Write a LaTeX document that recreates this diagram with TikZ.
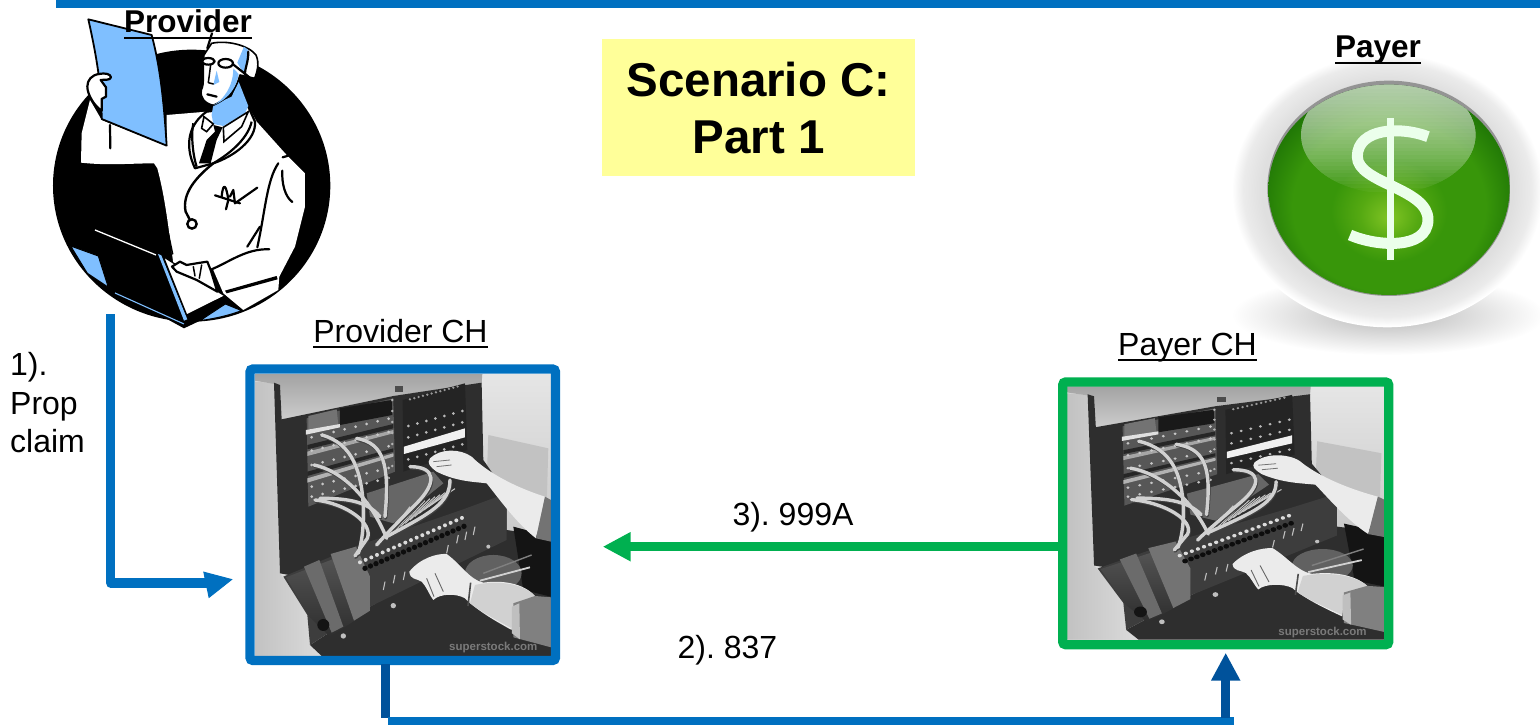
\documentclass[tikz,border=0pt]{standalone}
\usepackage{fontspec}
\setmainfont{Liberation Sans}
\usetikzlibrary{arrows.meta}
\definecolor{mainblue}{HTML}{0070C0}
\definecolor{darkblue}{HTML}{00529B}
\definecolor{maingreen}{HTML}{00B050}
\definecolor{paleblue}{HTML}{7FBFFF}
\definecolor{scenbg}{HTML}{FFFF99}
\definecolor{ballA}{HTML}{80C424}
\definecolor{ballB}{HTML}{55A912}
\definecolor{ballC}{HTML}{38960A}
\definecolor{ballD}{HTML}{1C7205}
\definecolor{ringA}{HTML}{DFDFDF}
\definecolor{ringB}{HTML}{EBEBEB}
\pgfdeclareradialshading{greenball}{\pgfpoint{0bp}{-7bp}}{%
  color(0bp)=(ballA); color(6bp)=(ballB); color(12bp)=(ballC); color(20bp)=(ballC); color(28bp)=(ballD); color(50bp)=(ballD)}
\pgfdeclareradialshading{softring}{\pgfpoint{0bp}{0bp}}{%
  color(0bp)=(ringA); color(20bp)=(ringA); color(23bp)=(ringB); color(24.8bp)=(white); color(50bp)=(white)}
\AtBeginDocument{\frenchspacing}
\newcommand\myul[1]{\leavevmode\setbox0\hbox{#1}\rlap{\rule[-.2em]{\wd0}{.08em}}\box0}
\newcounter{wmcount}
\tikzset{
  lbl/.style={anchor=base,inner sep=0pt,font=\fontsize{32}{38.5}\selectfont},
  lblbold/.style={anchor=base,inner sep=0pt,font=\fontsize{31.5}{38}\selectfont\bfseries},
  chframe/.style={draw=#1,line width=9.3pt,rounded corners=3pt,inner sep=0pt,fill=none},
  bflow/.style={draw=mainblue,line width=9.3pt,line join=round},
  dflow/.style={draw=darkblue,line width=9.3pt},
  gflow/.style={draw=maingreen,line width=9.3pt},
  ink/.style={black,line width=1.5pt,line cap=round,line join=round},
  inkb/.style={black,line width=2.2pt,line cap=round,line join=round},
  cord/.style={line width=3.4pt,draw=#1,line cap=round},
}
\newcommand\boardcords[1]{%
    \draw[cord=#1] (275,255) .. controls (370,280) and (395,370) .. (400,470) .. controls (402,530) and (395,580) .. (385,610);
    \draw[cord=#1] (380,265) .. controls (460,280) and (480,340) .. (465,500);
    \draw[cord=#1] (252,345) .. controls (330,360) and (420,440) .. (470,565);
    \draw[cord=#1] (255,450) .. controls (350,460) and (430,520) .. (412,565) -- (375,618);
    \draw[cord=#1] (270,445) .. controls (340,445) and (410,450) .. (450,500);
    \draw[cord=#1] (540,350) .. controls (620,350) and (620,400) .. (560,460) .. controls (520,500) and (470,550) .. (440,585);
    \draw[cord=#1] (660,390) .. controls (660,460) and (600,490) .. (470,560);
}
% ---------- switchboard photo, drawn in a 3x local grid
\newcommand\boardart{%
  \clip (75,72) rectangle (963,918);
  \fill[black!15] (75,72) rectangle (963,918);
  \shade[top color=black!10,bottom color=black!22] (755,72) rectangle (963,600);
  \fill[black!24] (775,255) -- (955,295) -- (950,470) -- (770,395) -- cycle;
  \shade[left color=black!24,right color=black!14] (75,95) -- (135,100) -- (150,670) -- (235,790) -- (240,880) -- (275,918) -- (75,918) -- cycle;
  \shade[top color=black!36,bottom color=black!20] (75,72) -- (757,72) -- (755,100) -- (490,138) -- (155,208) -- (150,105) -- (75,92) -- cycle;
  % dark panel
  \fill[black!82] (132,98) -- (150,105) -- (155,208) -- (490,138) -- (755,98) -- (760,330) -- (830,430) -- (830,570) -- (420,720) -- (150,670) -- cycle;
  % desk
  \fill[black!82] (275,918) -- (240,885) -- (420,770) -- (830,540) -- (963,560) -- (963,918) -- cycle;
  \fill[black!92] (850,530) -- (963,560) -- (963,740) -- (880,720) -- cycle;
  \fill[black!62] (790,670) ellipse (85 and 55);
  % left jack field
  \fill[black!66] (230,205) -- (490,145) -- (495,365) -- (235,470) -- cycle;
  \fill[black!90] (330,175) -- (485,150) -- (487,195) -- (330,225) -- cycle;
  \fill[black!55] (235,198) -- (320,178) -- (325,225) -- (235,240) -- cycle;
  \fill[black!12] (228,240) -- (330,222) -- (330,232) -- (228,254) -- cycle;
  \fill[black!35] (232,305) -- (490,240) -- (490,250) -- (232,318) -- cycle;
  \fill[black!85] (232,285) -- (490,222) -- (490,235) -- (232,298) -- cycle;
  \fill[black!30] (232,385) -- (490,310) -- (490,320) -- (232,398) -- cycle;
  \fill[black!85] (232,365) -- (490,295) -- (490,305) -- (232,378) -- cycle;
  \foreach \rowy in {262,302,345,410,440}
    \foreach \nn in {0,...,7}
      \fill[black!22] ({245+33*\nn},{\rowy-8*\nn}) circle (4.5);
  % right jack field
  \fill[black!86] (518,150) -- (705,100) -- (712,300) -- (520,365) -- cycle;
  \fill[black!6] (522,290) -- (705,235) -- (705,262) -- (522,312) -- cycle;
  \foreach \rowy in {228,262,328}
    \foreach \nn in {0,...,6}
      \fill[black!28] ({535+27*\nn},{\rowy-7.5*\nn}) circle (4.5);
  \foreach \nn in {0,...,11}
    \fill[black!40] ({540+13*\nn},{148-3.5*\nn}) circle (4);
  \foreach \nn in {0,...,6}
    \fill[black!30] (487,{150+33*\nn}) circle (4);
  \fill[black!70] (495,108) rectangle (520,125);
  % middle fan behind cords
  \fill[black!60] (410,430) -- (610,365) -- (640,400) -- (490,520) -- (420,500) -- cycle;
  \foreach \nn in {0,...,9}
    \draw[black!22,line width=1pt] ({470+14*\nn},{560-10*\nn}) -- ({540+15*\nn},{470-6*\nn});
  % console
  \fill[black!76] (160,680) -- (375,590) -- (700,478) -- (830,430) -- (830,570) -- (420,770) -- (240,885) -- (232,795) -- cycle;
  \shade[top color=black!66,bottom color=black!82] (168,682) -- (380,600) -- (420,680) -- (420,782) -- (300,860) -- (238,800) -- cycle;
  \fill[black!58] (222,650) -- (268,630) -- (340,830) -- (305,848) -- cycle;
  \fill[black!55] (302,612) -- (378,590) -- (420,680) -- (420,782) -- (372,812) -- cycle;
  \fill[black!92] (280,825) circle (18);
  \foreach \nn in {0,...,18}
    \fill[black!95] ({405+16.5*\nn},{655-7*\nn}) circle (8);
  \foreach \nn in {0,...,18}
    \fill[black!14] ({390+17*\nn},{637-7.4*\nn}) circle (6);
  \foreach \px/\py in {460/720,490/700,520/690,650/610,680/580,705/570,730/555}
    \draw[black!25,line width=1.1pt] (\px,\py) -- ++(5,-25);
  \fill[black!25] (340,858) circle (8) (490,767) circle (8) (775,590) circle (6);
  % cords
  \begin{scope}[shift={(2,4)}]\boardcords{black!75}\end{scope}
  \boardcords{black!18}
  % pencils
  \draw[black!18,line width=1.8pt] (750,692) -- (900,652);
  \draw[black!50,line width=1.4pt] (760,670) -- (905,615);
  % upper hand and arm
  \fill[black!8] (600,325) .. controls (630,295) and (690,295) .. (725,320) .. controls (770,365) and (850,410) .. (945,440) -- (918,565) .. controls (860,520) and (810,450) .. (770,400) .. controls (730,395) and (680,395) .. (620,365) .. controls (600,350) and (590,340) .. cycle;
  \draw[black!55,line width=.8pt] (610,335) -- (660,330) (620,350) -- (665,345);
  \fill[black!55] (945,440) -- (963,450) -- (963,575) -- (918,565) -- cycle;
  % lower hand, arm, sleeve
  \fill[black!8] (538,665) .. controls (570,625) and (620,610) .. (650,612) .. controls (690,640) and (720,690) .. (760,698) .. controls (820,690) and (880,700) .. (915,738) -- (850,775) -- (845,840) .. controls (790,810) and (740,780) .. (705,745) .. controls (680,730) and (630,730) .. (610,750) .. controls (595,730) and (590,710) .. (575,695) .. controls (560,685) and (540,690) .. cycle;
  \fill[black!18] (735,705) .. controls (800,690) and (880,700) .. (915,738) -- (850,775) -- (845,835) .. controls (800,810) and (760,790) .. (720,760) -- cycle;
  \fill[black!50] (850,760) -- (915,738) -- (963,742) -- (963,892) -- (850,862) -- cycle;
  \fill[black!25] (846,770) -- (868,760) -- (870,868) -- (846,850) -- cycle;
  \draw[black!70,line width=1.6pt] (722,698) -- (714,768);
  \draw[black!60,line width=.9pt] (590,685) -- (612,740) (615,670) -- (640,725);
  \stepcounter{wmcount}%
  \node[inner sep=0pt,text=black!52,font=\fontsize{11.5}{12}\selectfont\bfseries] (wm\thewmcount) at (790,893) {superstock.com};
}
% ---------- payer icon
\newcommand\payerart{%
  \shade[inner color=black!28,outer color=white] (565,885) ellipse (470 and 120);
  \shade[shading=softring] (562,510) ellipse (470 and 412);
  \begin{scope}
    \clip (567,505) ellipse (365 and 323);
    \fill[black!42] (200,180) rectangle (930,830);
  \end{scope}
  \begin{scope}
    \clip (567,510) ellipse (362 and 316);
    \shade[shading=greenball] (567,505) ellipse (362 and 320);
    \begin{scope}
      \clip (565,345) ellipse (262 and 175);
      \foreach \kk in {1,...,30}
        \fill[white,opacity=.04] (290,170) rectangle (840,{185+11*\kk});
    \end{scope}
  \end{scope}
  \draw[white!92!green,line width=11pt,line cap=butt] (684,350) .. controls (600,318) and (472,325) .. (472,410) .. controls (472,490) and (686,505) .. (684,600) .. controls (682,690) and (530,680) .. (450,645);
  \draw[white!92!green,line width=6.5pt] (572,295) -- (572,720);
}
% ---------- provider clip art
\newcommand\providerart{%
  \fill[black] (575,557) ellipse (416 and 408);
  % white coat
  \fill[white] (270,300) -- (245,400) -- (243,488) .. controls (320,497) and (400,490) .. (462,490) -- (472,505) .. controls (495,590) and (505,680) .. (520,790) -- (640,810) -- (670,880) -- (730,930) -- (835,870) -- (838,830) -- (885,740) -- (915,620) -- (915,520) -- (860,465) -- (770,365) -- (745,320) -- (620,335) -- (500,345) -- (500,438) -- (305,360) -- cycle;
  % sleeve creases and coat lines
  \draw[inkb] (330,375) -- (331,445);
  \draw[ink] (505,700) -- (518,762);
  \draw[inkb] (835,490) .. controls (800,540) and (795,640) .. (772,742);
  \draw[inkb] (780,680) -- (742,740);
  \draw[inkb] (847,512) .. controls (845,550) and (855,590) .. (877,606);
  \draw[inkb] (848,472) -- (865,467);
  \draw[inkb] (808,748) .. controls (740,745) and (690,785) .. (635,808);
  \fill[black] (675,872) -- (830,828) -- (833,838) -- (680,880) -- cycle;
  % paper and hand
  \fill[paleblue,draw=black,line width=1.8pt,line join=round] (265,58) -- (455,105) .. controls (475,180) and (490,270) .. (500,437) -- (305,357) .. controls (305,260) and (290,170) .. cycle;
  \draw[inkb,fill=white] (297,222) .. controls (315,218) and (332,222) .. (333,232) .. controls (330,242) and (315,238) .. (302,240) -- (318,262) -- (318,290) -- (305,297) -- (305,332) .. controls (285,320) and (262,285) .. (262,260) .. controls (262,240) and (275,225) .. cycle;
  % stethoscope and collar
  \fill[white,draw=black,line width=2.2pt,line join=round] (620,335) .. controls (570,370) and (550,430) .. (585,505) -- (640,490) .. controls (700,470) and (770,420) .. (765,365) -- (745,320) -- cycle;
  \fill[paleblue] (635,345) -- (640,315) -- (695,290) -- (716,245) -- (745,318) -- (735,340) -- (670,378) -- (640,372) -- cycle;
  \fill[white,draw=black,line width=1.6pt] (612,350) -- (640,372) -- (620,395) -- (605,385) -- cycle;
  \fill[white,draw=black,line width=1.6pt] (745,335) -- (670,382) -- (672,425) -- (725,380) -- cycle;
  \fill[black] (640,375) -- (668,382) -- (650,420) -- (632,490) -- (597,490) -- (620,420) -- (645,395) -- cycle;
  \draw[black,line width=2.2pt] (580,370) .. controls (572,410) and (580,470) .. (590,500);
  \draw[black,line width=2.2pt] (755,365) .. controls (745,410) and (700,455) .. (640,490);
  \draw[black,line width=2.4pt] (640,490) .. controls (590,530) and (545,580) .. (557,635) -- (570,660);
  \draw[black,line width=2.4pt,fill=white] (576,672) circle (14);
  % head
  \fill[white,draw=black,line width=1.6pt,line join=round] (635,130) .. controls (680,120) and (745,135) .. (768,165) .. controls (780,190) and (770,220) .. (764,235) -- (720,225) .. controls (710,260) and (695,290) .. (640,316) .. controls (615,310) and (600,295) .. (604,270) .. controls (615,250) and (606,220) .. (612,165) -- cycle;
  \fill[paleblue] (712,188) -- (732,140) -- (745,150) -- (740,190) -- (735,228) -- cycle;
  \fill[paleblue] (640,316) .. controls (690,295) and (710,260) .. (716,222) -- (700,205) .. controls (700,260) and (670,300) .. cycle;
  \fill[paleblue] (650,212) -- (640,255) -- (658,246) -- cycle;
  \draw[inkb,fill=white] (625,184) ellipse (19 and 10);
  \draw[inkb,fill=white] (677,190) ellipse (22 and 13);
  \draw[inkb] (698,192) -- (752,235);
  \draw[ink] (632,195) -- (625,248) -- (640,252);
  \draw[inkb] (622,283) -- (650,290);
  \draw[inkb] (745,155) .. controls (745,190) and (735,200) .. (735,225);
  \draw[inkb] (636,100) -- (622,145);
  % signature
  \draw[inkb] (645,586) -- (720,610);
  \draw[inkb] (665,590) .. controls (670,540) and (680,560) .. (685,600) -- (678,628);
  \draw[inkb] (690,590) -- (700,570) -- (705,610) -- (772,563);
  % laptop
  \fill[paleblue,draw=black,line width=1pt] (212,738) -- (295,768) -- (325,862) -- (262,820) -- cycle;
  \fill[black] (345,872) -- (552,985) -- (605,960) -- (480,760) -- cycle;
  \draw[white,line width=1.3pt] (285,690) -- (468,765);
  \fill[paleblue] (474,762) -- (484,766) -- (562,958) -- (552,962) -- cycle;
  \draw[paleblue,line width=1.1pt] (345,879) -- (552,972);
  \fill[white,draw=black,line width=1.2pt] (490,770) -- (675,888) -- (560,945) -- cycle;
  \fill[black] (560,945) -- (672,888) -- (678,903) -- (572,968) -- cycle;
  \fill[paleblue,draw=black,line width=1pt] (600,962) -- (676,912) -- (725,932) .. controls (690,945) and (650,955) .. cycle;
  % typing hand
  \draw[inkb,fill=white] (516,800) -- (540,785) -- (560,795) -- (590,790) -- (622,785) -- (632,810) -- (652,875) -- (590,840) -- (530,815) -- cycle;
  \draw[ink] (580,800) -- (585,828);
  \draw[ink] (605,795) -- (598,835);
}
\begin{document}
\begin{tikzpicture}[x=1pt,y=-1pt]
\useasboundingbox (0,0) rectangle (1540,725);
\fill[mainblue] (56,0) rectangle (1540,8);
% payer and provider art
\begin{scope}[shift={(1200,20)},x=0.3333pt,y=-0.3333pt]\payerart\end{scope}
\begin{scope}[x=0.3333pt,y=-0.3333pt]\providerart\end{scope}
% photos
\begin{scope}[shift={(230,350)},x=0.3333pt,y=-0.3333pt]\begin{scope}\boardart\end{scope}\end{scope}
\begin{scope}[shift={(1040.5,364.9)},x=0.3570pt,y=-0.2994pt]\begin{scope}\boardart\end{scope}\end{scope}
% frames
\node[chframe=mainblue,minimum width=305.5pt,minimum height=291.5pt] (pch) at (402.75,514.75) {};
\node[chframe=maingreen,minimum width=326pt,minimum height=262.7pt] (ych) at (1225.7,513.35) {};
% titles
\node[fill=scenbg,minimum width=313.5pt,minimum height=136pt,inner sep=0pt] (scen) at (758.5,107.5) {};
\node[anchor=base,inner sep=0pt,font=\fontsize{47.5}{57}\selectfont\bfseries] (scen1) at (758.5,96) {Scenario C:};
\node[anchor=base,inner sep=0pt,font=\fontsize{47.5}{57}\selectfont\bfseries] (scen2) at (758.5,153) {Part 1};
\node[lblbold] (provider) at (188,33) {\myul{Provider}};
\node[lblbold] (payer) at (1378,58) {\myul{Payer}};
\node[lbl] (pchl) at (400.5,342) {\myul{Provider CH}};
\node[lbl] (ychl) at (1187.5,355) {\myul{Payer CH}};
\node[lbl,anchor=north west,align=left] (l1) at (10,352.5) {1).\\Prop\\claim};
\node[lbl] (l3) at (793,525) {3). 999A};
\node[lbl] (l2) at (727.5,658) {2). 837};
% connector 1
\coordinate (c1a) at (110.8,314);
\coordinate (c1b) at (212,583);
\coordinate (c1c) at (206,584.85);
\coordinate (c1d) at (232.7,579.3);
\draw[bflow] (c1a) |- (c1b);
\draw[bflow,line width=1pt,-{Triangle[length=27.3pt,width=27pt]}] (c1c) -- (c1d);
% connector 3
\coordinate (c3a) at (1058,546.7);
\coordinate (c3b) at (602.7,546.7);
\draw[gflow,-{Triangle[length=28pt,width=27.4pt]}] (c3a) -- (c3b);
% connector 2
\coordinate (c2a) at (385.2,664);
\coordinate (c2b) at (385.2,718);
\coordinate (c2c) at (387.8,721.6);
\coordinate (c2d) at (1234,721.6);
\coordinate (c2e) at (1225.7,718);
\coordinate (c2f) at (1225.7,652.7);
\draw[dflow] (c2a) -- (c2b);
\draw[bflow] (c2c) -- (c2d);
\draw[dflow,-{Triangle[length=28pt,width=27.4pt]}] (c2e) -- (c2f);
\end{tikzpicture}
\end{document}
